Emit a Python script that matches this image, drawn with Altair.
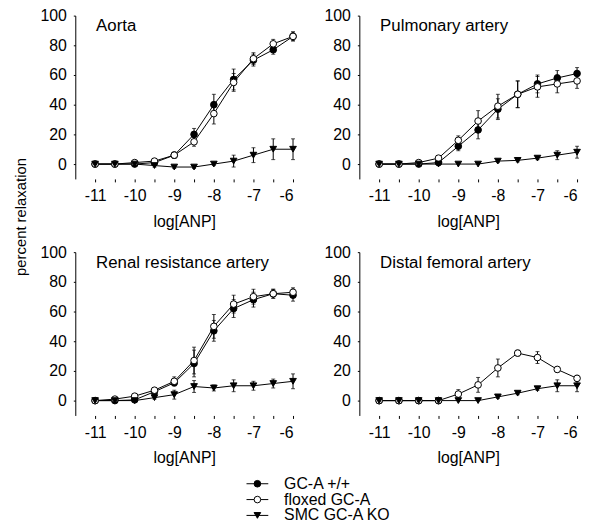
import altair as alt
import pandas as pd

log_anp = [-11, -10.5, -10, -9.5, -9, -8.5, -8, -7.5, -7, -6.5, -6]
series_names = ["GC-A +/+", "floxed GC-A", "SMC GC-A KO"]
panel_names = ["Aorta", "Pulmonary artery", "Renal resistance artery", "Distal femoral artery"]
y_ticks = [0, 20, 40, 60, 80, 100]

# Aorta
aorta_wt = [0, 0, 0, 1, 6, 20, 40, 57, 70, 77, 86]
aorta_wt_err = [0, 0, 0, 1, 2, 4, 7, 7, 4, 3, 3]
aorta_fl = [0, 0, 1, 2, 6, 15, 34, 55, 71, 81, 86]
aorta_fl_err = [0, 0, 0, 1, 2, 3, 7, 6, 4, 3, 3]
aorta_ko = [0, 0, 0, -1, -2, -2, 0, 2, 6, 10, 10]
aorta_ko_err = [0, 0, 0, 1, 1, 1, 1, 4, 5, 7, 7]

# Pulmonary artery
pulm_wt = [0, 0, 0, 1, 12, 23, 37, 47, 54, 58, 61]
pulm_wt_err = [0, 0, 0, 1, 3, 6, 7, 9, 6, 5, 4]
pulm_fl = [0, 0, 1, 4, 16, 29, 39, 47, 52, 54, 56]
pulm_fl_err = [0, 0, 0, 1, 3, 7, 8, 9, 7, 6, 5]
pulm_ko = [0, 0, 0, 0, 0, 0, 2, 2.5, 4, 6, 8]
pulm_ko_err = [0, 0, 0, 0, 0, 0, 1, 1, 1, 3, 4]

# Renal resistance artery
renal_wt = [0, 0, 0.5, 6, 12, 25, 47, 62, 68, 72, 71]
renal_wt_err = [0, 0, 0, 1, 2, 9, 7, 6, 5, 3, 4]
renal_fl = [0, 1, 3, 7, 13, 27, 50, 65, 70, 72, 73]
renal_fl_err = [0, 0, 1, 1, 3, 9, 8, 6, 5, 3, 3]
renal_ko = [0, 0, 0, 2, 4, 9.5, 8.5, 10, 10, 11.5, 13]
renal_ko_err = [0, 0, 0, 1, 3, 4, 2, 4, 3, 3, 5]

# Distal femoral artery
fem_wt = [0, 0, 0, 0, None, None, None, None, None, None, None]
fem_wt_err = [0, 0, 0, 0, None, None, None, None, None, None, None]
fem_fl = [0, 0, 0, 0, 4.4, 10.6, 22, 32, 29, 21, 15]
fem_fl_err = [0, 0, 0, 0, 3, 5, 6, 2, 4, 2, 2]
fem_ko = [0, 0, 0, 0, 0, 0, 2.5, 5, 8, 10, 10]
fem_ko_err = [0, 0, 0, 0, 0, 0, 1, 1, 1, 4, 4]

panel_data = {
    "Aorta": [(aorta_wt, aorta_wt_err), (aorta_fl, aorta_fl_err), (aorta_ko, aorta_ko_err)],
    "Pulmonary artery": [(pulm_wt, pulm_wt_err), (pulm_fl, pulm_fl_err), (pulm_ko, pulm_ko_err)],
    "Renal resistance artery": [(renal_wt, renal_wt_err), (renal_fl, renal_fl_err), (renal_ko, renal_ko_err)],
    "Distal femoral artery": [(fem_wt, fem_wt_err), (fem_fl, fem_fl_err), (fem_ko, fem_ko_err)],
}

rows = []
for pname, sers in panel_data.items():
    for sname, (vals, errs) in zip(series_names, sers):
        for xv, v, e in zip(log_anp, vals, errs):
            if v is None:
                continue
            rows.append({"panel": pname, "series": sname, "x": xv, "y": v,
                         "lo": v - e, "hi": v + e, "err": e})
df = pd.DataFrame(rows)

FONT = "Liberation Sans"
shape_scale = alt.Scale(domain=series_names, range=["circle", "circle", "triangle-down"])
fill_scale = alt.Scale(domain=series_names, range=["black", "white", "black"])
xscale = alt.Scale(domain=[-11.5, -6], nice=False, zero=False)
yscale = alt.Scale(domain=[-10, 100], nice=False, zero=False)
PW, PH = 220, 165


def make_panel(pname, first):
    d = df[df.panel == pname]
    xaxis = alt.Axis(values=log_anp,
                     labelExpr="datum.value % 1 == 0 ? toString(datum.value) : ''",
                     labelOverlap=False,
                     domain=False, grid=False, tickSize=3, tickColor="black",
                     labelFontSize=16, labelColor="black", labelPadding=6,
                     title="log[ANP]", titleFontSize=16, titleFontWeight="normal",
                     titleColor="black", titlePadding=10)
    yargs = dict(values=y_ticks, grid=False, tickSize=2, tickColor="black",
                 domainColor="black", labelFontSize=16, labelColor="black", labelPadding=7,
                 labelOverlap=False)
    if first:
        yaxis = alt.Axis(title="percent relaxation", titleFontSize=15, titleFontWeight="normal",
                         titleColor="black", titleY=203, titlePadding=12, **yargs)
    else:
        yaxis = alt.Axis(title=None, **yargs)
    base = alt.Chart(d)
    X = alt.X("x:Q", scale=xscale, axis=xaxis)

    def Y(f):
        return alt.Y(f, scale=yscale, axis=yaxis)

    line = base.mark_line(color="black", strokeWidth=1).encode(
        x=X, y=Y("y:Q"), detail="series:N")
    ebase = base.transform_filter("datum.err > 0")
    err = ebase.mark_rule(color="black", strokeWidth=1).encode(
        x=X, y=Y("lo:Q"), y2="hi:Q")
    cap_hi = ebase.mark_tick(color="black", orient="horizontal", size=4, thickness=1).encode(
        x=X, y=Y("hi:Q"))
    cap_lo = ebase.mark_tick(color="black", orient="horizontal", size=4, thickness=1).encode(
        x=X, y=Y("lo:Q"))
    pts = base.mark_point(filled=False, stroke="black", strokeWidth=1, size=45, opacity=1).encode(
        x=X, y=Y("y:Q"),
        shape=alt.Shape("series:N", scale=shape_scale, legend=None),
        fill=alt.Fill("series:N", scale=fill_scale, legend=None),
        order=alt.Order("x:Q"))
    title = alt.Chart(pd.DataFrame({"t": [pname]})).mark_text(
        align="left", baseline="middle", fontSize=17, color="black", font=FONT).encode(
        x=alt.value(21), y=alt.value(11), text="t:N")
    return alt.layer(line, err, cap_hi, cap_lo, pts, title).properties(width=PW, height=PH)


panels = [make_panel(p, i == 0) for i, p in enumerate(panel_names)]
grid = alt.concat(*panels, columns=2, spacing={"row": 74, "column": 67}, bounds="flush")

leg = pd.DataFrame({"series": series_names})
ly = alt.Y("series:N", sort=series_names, axis=None, scale=alt.Scale(type="point", padding=0.5))
leg_line = alt.Chart(leg).mark_rule(color="black", strokeWidth=1).encode(
    x=alt.value(173), x2=alt.value(195), y=ly)
leg_pt = alt.Chart(leg).mark_point(stroke="black", strokeWidth=1, size=45, opacity=1).encode(
    x=alt.value(184), y=ly,
    shape=alt.Shape("series:N", scale=shape_scale, legend=None),
    fill=alt.Fill("series:N", scale=fill_scale, legend=None))
leg_txt = alt.Chart(leg).mark_text(align="left", baseline="middle", fontSize=16,
                                   color="black", font=FONT).encode(
    x=alt.value(211), y=ly, text="series:N")
legend = alt.layer(leg_line, leg_pt, leg_txt).properties(width=220, height=48)

chart = alt.vconcat(grid, legend, spacing=10).properties(
    padding={"left": 5, "top": -3, "right": 0, "bottom": 0}
).configure(font=FONT).configure_view(stroke=None).configure_axis(labelOverlap=False)

chart.save("out.html", embed_options={"renderer": "svg", "actions": False})
